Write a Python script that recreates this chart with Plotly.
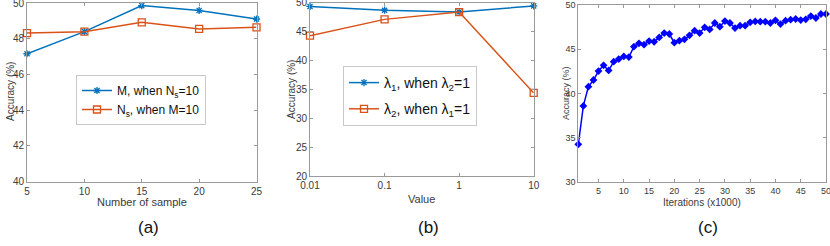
import plotly.graph_objects as go

# ---- data ----
samples = [5, 10, 15, 20, 25]
acc_M = [47.17, 48.41, 49.87, 49.6, 49.12]
acc_Ns = [48.33, 48.41, 48.93, 48.56, 48.65]

lam_vals = [0.01, 0.1, 1, 10]
lam_labels = ["0.01", "0.1", "1", "10"]
acc_l1 = [49.35, 48.7, 48.4, 49.45]
acc_l2 = [44.3, 47.12, 48.38, 34.4]

iters = list(range(1, 51))
acc_iter = [34.28, 38.6, 40.77, 41.52, 42.53, 43.17, 42.6, 43.58, 43.88, 44.18,
            44.1, 45.27, 45.65, 45.5, 45.9, 45.83, 46.32, 46.81, 46.7, 45.72,
            45.95, 46.1, 46.55, 47.07, 46.81, 47.45, 47.22, 47.94, 47.52, 48.16,
            47.94, 47.37, 47.64, 47.64, 48.01, 48.12, 48.09, 48.09, 47.94, 48.24,
            47.82, 48.2, 48.31, 48.39, 48.27, 48.35, 48.72, 48.5, 48.95, 48.95]
iter_ticks = list(range(5, 51, 5))

BLUE = "#0072BD"
ORANGE = "#D95319"
W, H = 830, 246
FONT = "Liberation Sans, Arial, sans-serif"
TXT = "#3a3a3a"
AX = "#9a9a9a"

fig = go.Figure()

fig.add_trace(go.Scatter(x=samples, y=acc_M, mode="lines+markers", name="M, when N<sub>s</sub>=10",
                         line=dict(color=BLUE, width=1.5),
                         marker=dict(symbol="asterisk-open", size=6, line=dict(color=BLUE, width=1.3)),
                         xaxis="x", yaxis="y", cliponaxis=False, legend="legend"))
fig.add_trace(go.Scatter(x=samples, y=acc_Ns, mode="lines+markers", name="N<sub>s</sub>, when M=10",
                         line=dict(color=ORANGE, width=1.5),
                         marker=dict(symbol="square-open", size=7, line=dict(color=ORANGE, width=1.3)),
                         xaxis="x", yaxis="y", cliponaxis=False, legend="legend"))

fig.add_trace(go.Scatter(x=lam_vals, y=acc_l1, mode="lines+markers", name="λ<sub>1</sub>, when λ<sub>2</sub>=1",
                         line=dict(color=BLUE, width=1.5),
                         marker=dict(symbol="asterisk-open", size=6, line=dict(color=BLUE, width=1.3)),
                         xaxis="x2", yaxis="y2", cliponaxis=False, legend="legend2", legendgroup="l1"))
fig.add_trace(go.Scatter(x=lam_vals, y=acc_l2, mode="lines+markers", name="λ<sub>2</sub>, when λ<sub>1</sub>=1",
                         line=dict(color=ORANGE, width=1.5),
                         marker=dict(symbol="square-open", size=7, line=dict(color=ORANGE, width=1.3)),
                         xaxis="x2", yaxis="y2", cliponaxis=False, legend="legend2", legendgroup="l2"))

fig.add_trace(go.Scatter(x=iters, y=acc_iter, mode="lines+markers", showlegend=False,
                         line=dict(color="#0000FF", width=1.5),
                         marker=dict(symbol="diamond", size=6, color="#0000FF"),
                         xaxis="x3", yaxis="y3", cliponaxis=False))


def px_x(p):
    return p / W


def px_y(p):
    return 1 - p / H


axcommon = dict(showline=True, linecolor=AX, linewidth=1, mirror="ticks", ticks="inside",
                ticklen=3, tickcolor=AX, showgrid=False, zeroline=False, automargin=False,
                ticklabeloverflow="allow",
                tickfont=dict(family=FONT, size=10, color=TXT), fixedrange=True)
small = {**axcommon, "tickfont": dict(family=FONT, size=9, color=TXT)}

fig.update_layout(
    template="none",
    width=W, height=H, margin=dict(l=0, r=0, t=0, b=0, autoexpand=False),
    paper_bgcolor="white", plot_bgcolor="white",
    font=dict(family=FONT, color=TXT),
    xaxis=dict(domain=[px_x(27), px_x(256.5)], range=[5, 25], dtick=5, anchor="y", **axcommon),
    yaxis=dict(domain=[px_y(181.5), px_y(3.3)], range=[40, 50], dtick=2, anchor="x", **axcommon),
    xaxis2=dict(domain=[px_x(310), px_x(533.7)], type="log", range=[-2, 1], tickvals=lam_vals,
                ticktext=lam_labels, anchor="y2", **axcommon),
    yaxis2=dict(domain=[px_y(176.3), px_y(2.7)], range=[20, 50], dtick=5, anchor="x2", **axcommon),
    xaxis3=dict(domain=[px_x(578.3), px_x(826)], range=[1, 50], tickvals=iter_ticks,
                anchor="y3", **small),
    yaxis3=dict(domain=[px_y(182.3), px_y(4.7)], range=[30, 50], dtick=5, anchor="x3", **small),
    legend=dict(x=px_x(76), y=px_y(75), xanchor="left", yanchor="top", bgcolor="white",
                bordercolor="#c8c8c8", borderwidth=1, font=dict(family=FONT, size=12, color="#111"),
                tracegroupgap=0, itemwidth=30),
    legend2=dict(x=px_x(343), y=px_y(66), xanchor="left", yanchor="top", bgcolor="white",
                 bordercolor="#c8c8c8", borderwidth=1, font=dict(family=FONT, size=14, color="#111"),
                 tracegroupgap=5, itemwidth=30),
    showlegend=True,
)

ann = []
for xc, yc, t, s in [((27 + 256.5) / 2, 202, "Number of sample", 11),
                     ((310 + 533.7) / 2, 199, "Value", 11),
                     ((578.3 + 826) / 2, 202, "Iterations (x1000)", 10)]:
    ann.append(dict(x=px_x(xc), y=px_y(yc), xref="paper", yref="paper", text=t, showarrow=False,
                    font=dict(family=FONT, size=s, color=TXT), xanchor="center", yanchor="middle"))
for xc, yc, s in [(10, 92, 10), (291, 90, 10), (566, 93, 9)]:
    ann.append(dict(x=px_x(xc), y=px_y(yc), xref="paper", yref="paper", text="Accuracy (%)",
                    showarrow=False, textangle=-90, font=dict(family=FONT, size=s, color=TXT),
                    xanchor="center", yanchor="middle"))
for xc, t in [(148, "(a)"), (428, "(b)"), (708, "(c)")]:
    ann.append(dict(x=px_x(xc), y=px_y(227), xref="paper", yref="paper", text=t, showarrow=False,
                    font=dict(family=FONT, size=17, color="#111"), xanchor="center", yanchor="middle"))
fig.update_layout(annotations=ann)

fig.write_html("out.html", config={"displayModeBar": False},
               post_script="document.body.style.margin='0';document.body.style.overflow='hidden';")
